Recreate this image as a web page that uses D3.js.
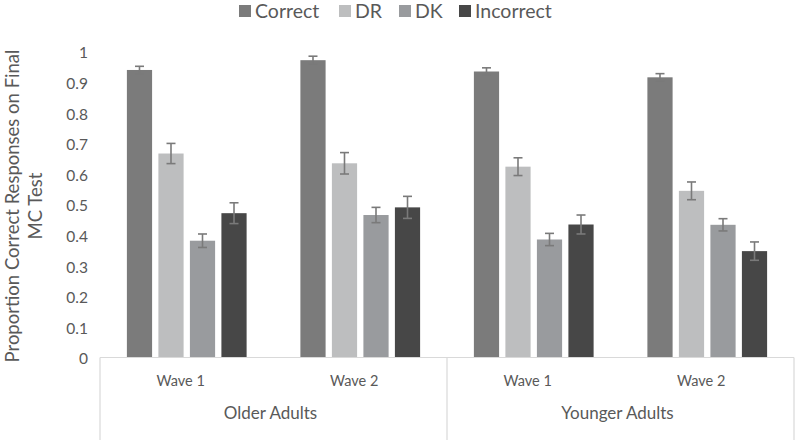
<!DOCTYPE html>
<html>
<head>
<meta charset="utf-8">
<script src="https://cdn.jsdelivr.net/npm/d3@7"></script>
<style>
  html, body { margin: 0; padding: 0; background: #fff; }
  svg { display: block; }
  text { font-family: Lato, "Open Sans", sans-serif; fill: #595959; }
</style>
</head>
<body>
<svg id="chart" width="795" height="440"></svg>
<script>
// ---- Data ----
const groups = ["Older Adults", "Younger Adults"];
const waves = ["Wave 1", "Wave 2"];
const clusters = ["Older Adults|Wave 1", "Older Adults|Wave 2", "Younger Adults|Wave 1", "Younger Adults|Wave 2"];
const seriesNames = ["Correct", "DR", "DK", "Incorrect"];
const correct   = [0.938, 0.970, 0.933, 0.914];
const dr        = [0.665, 0.633, 0.622, 0.543];
const dk        = [0.380, 0.464, 0.384, 0.432];
const incorrect = [0.470, 0.489, 0.433, 0.346];
const correctErr   = [0.012, 0.013, 0.012, 0.012];
const drErr        = [0.033, 0.035, 0.029, 0.029];
const dkErr        = [0.022, 0.025, 0.020, 0.020];
const incorrectErr = [0.034, 0.036, 0.031, 0.030];
const yTicks = [0, 0.1, 0.2, 0.3, 0.4, 0.5, 0.6, 0.7, 0.8, 0.9, 1];
const yTitle = ["Proportion Correct Responses on Final", "MC Test"];

const colors = { "Correct": "#7b7b7b", "DR": "#bdbebf", "DK": "#999b9e", "Incorrect": "#474747" };
const values = { "Correct": correct, "DR": dr, "DK": dk, "Incorrect": incorrect };
const errs = { "Correct": correctErr, "DR": drErr, "DK": dkErr, "Incorrect": incorrectErr };

const rows = [];
clusters.forEach((c, i) => seriesNames.forEach(s => rows.push({ cluster: c, series: s, value: values[s][i], err: errs[s][i] })));

// ---- Layout ----
const svg = d3.select("#chart");
const plotL = 100, plotR = 794, plotT = 51, plotB = 357;

const x0 = d3.scaleBand().domain(clusters).range([plotL, plotR]).paddingInner(0.31).paddingOuter(0.155);
const x1 = d3.scaleBand().domain(seriesNames).range([0, x0.bandwidth()]).paddingInner(0.2).paddingOuter(0);
const y = d3.scaleLinear().domain([0, 1]).range([plotB, plotT]);
const xg = d3.scaleBand().domain(groups).range([plotL, plotR]);

// Y tick labels (no axis line)
const yAxis = d3.axisLeft(y).tickValues(yTicks).tickSize(0).tickPadding(0).tickFormat(d3.format("~g"));
const yg = svg.append("g").attr("transform", `translate(88,0)`).call(yAxis);
yg.select(".domain").remove();
yg.selectAll("text").style("font-family", "Lato, 'Open Sans', sans-serif").style("font-size", "15.5px").attr("fill", "#595959").attr("dy", "0.45em");

// Y title
const yt = svg.append("text").attr("transform", "translate(0,206) rotate(-90)").attr("text-anchor", "middle").style("font-size", "18.5px");
yTitle.forEach((t, i) => yt.append("tspan").attr("x", 0).attr("y", 19 + i * 23).text(t));

// Bars
svg.append("g").selectAll("rect").data(rows).join("rect")
  .attr("x", d => x0(d.cluster) + x1(d.series))
  .attr("y", d => y(d.value))
  .attr("width", x1.bandwidth())
  .attr("height", d => y(0) - y(d.value))
  .attr("fill", d => colors[d.series]);

// Error bars
const eb = svg.append("g").attr("stroke", "#7a7a7a").attr("stroke-width", 1.6).attr("fill", "none");
rows.forEach(d => {
  const cx = x0(d.cluster) + x1(d.series) + x1.bandwidth() / 2;
  const y1 = y(d.value + d.err), y2 = y(d.value - d.err);
  eb.append("line").attr("x1", cx).attr("x2", cx).attr("y1", y1).attr("y2", y2);
  eb.append("line").attr("x1", cx - 4.5).attr("x2", cx + 4.5).attr("y1", y1).attr("y2", y1);
  eb.append("line").attr("x1", cx - 4.5).attr("x2", cx + 4.5).attr("y1", y2).attr("y2", y2);
});

// Category axis box
const ax = svg.append("g").attr("stroke", "#d9d9d9").attr("stroke-width", 1.2);
ax.append("line").attr("x1", plotL).attr("x2", plotR).attr("y1", y(0) + 0.5).attr("y2", y(0) + 0.5);
[plotL, xg("Younger Adults"), plotR].forEach(xx =>
  ax.append("line").attr("x1", xx).attr("x2", xx).attr("y1", y(0) + 0.5).attr("y2", 440));

// Wave labels
svg.append("g").selectAll("text").data(clusters).join("text")
  .attr("x", d => x0(d) + x0.bandwidth() / 2 - 6)
  .attr("y", 386)
  .attr("text-anchor", "middle")
  .style("font-size", "14.5px")
  .text(d => d.split("|")[1]);

// Group labels
svg.append("g").selectAll("text").data(groups).join("text")
  .attr("x", d => xg(d) + xg.bandwidth() / 2 - 3)
  .attr("y", 419)
  .attr("text-anchor", "middle")
  .style("font-size", "17px")
  .text(d => d);

// Legend
const legendX = [239, 339, 399, 459];
const lg = svg.append("g");
seriesNames.forEach((s, i) => {
  lg.append("rect").attr("x", legendX[i]).attr("y", 5).attr("width", 12).attr("height", 12).attr("fill", colors[s]);
  lg.append("text").attr("x", legendX[i] + 16).attr("y", 18).style("font-size", "19.5px").text(s);
});
</script>
</body>
</html>
